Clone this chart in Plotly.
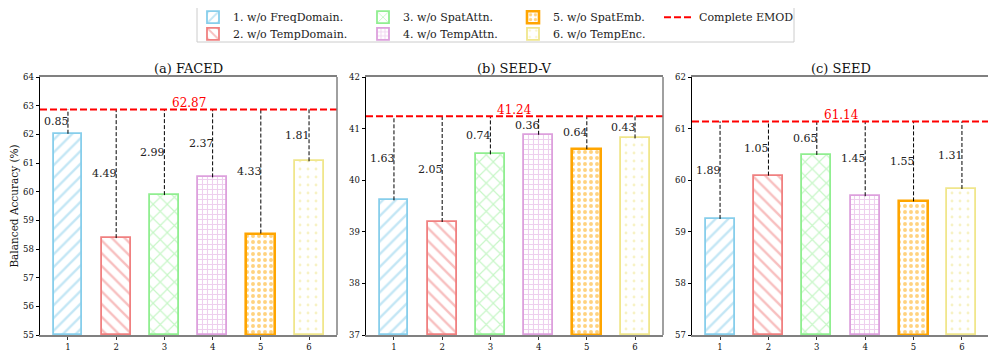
import plotly.graph_objects as go

# ── Data ──────────────────────────────────────────────────────────────────────
datasets = ["(a) FACED", "(b) SEED-V", "(c) SEED"]
variants = ["1. w/o FreqDomain.", "2. w/o TempDomain.", "3. w/o SpatAttn.",
            "4. w/o TempAttn.", "5. w/o SpatEmb.", "6. w/o TempEnc."]
positions = [1, 2, 3, 4, 5, 6]

complete_emod = [62.87, 41.24, 61.14]
faced_acc = [62.02, 58.38, 59.88, 60.50, 58.54, 61.06]
seedv_acc = [39.61, 39.19, 40.50, 40.88, 40.60, 40.81]
seed_acc = [59.25, 60.09, 60.49, 59.69, 59.59, 59.83]

faced_drop = ["0.85", "4.49", "2.99", "2.37", "4.33", "1.81"]
seedv_drop = ["1.63", "2.05", "0.74", "0.36", "0.64", "0.43"]
seed_drop = ["1.89", "1.05", "0.65", "1.45", "1.55", "1.31"]

y_ranges = [(55, 64), (37, 42), (57, 62)]

accs = [faced_acc, seedv_acc, seed_acc]
drops = [faced_drop, seedv_drop, seed_drop]

# ── Style ─────────────────────────────────────────────────────────────────────
colours = ["#87CEEB", "#F08080", "#90EE90", "#DDA0DD", "#FFA500", "#F0E68C"]
patterns = [("/", 9, 0.26), ("\\", 9, 0.26), ("x", 10, 0.22),
            ("+", 5, 0.38), (".", 6, 0.34), (".", 8, 0.1)]
edge_widths = [1.8, 1.8, 1.8, 1.8, 2.6, 1.8]

FONT = "DejaVu Serif"
# page body has an 8px margin, so the figure is laid out in screen px minus 8
OFF = 8
W, H = 996 - OFF, 359 - OFF


def px(x):
    return (x - OFF) / W


def py(y):
    return 1 - (y - OFF) / H


x_px = [(40, 337), (366, 663), (692, 990)]
y_dom = [py(335), py(77)]
x_range = [0.42, 6.58]
SPINE = "#808080"

# one single-item legend per entry: (left px, row centre px)
legend_pos = [(193, 15.7), (193, 32.3), (363, 15.7), (363, 32.3),
              (513, 15.7), (513, 32.3), (659, 15.7)]
legend_names = ["legend"] + [f"legend{k}" for k in range(2, 8)]

fig = go.Figure()

for p in range(3):
    xa = "x" if p == 0 else f"x{p + 1}"
    ya = "y" if p == 0 else f"y{p + 1}"
    ymin = y_ranges[p][0]

    # ── bars ──
    for i in range(6):
        shape, size, sol = patterns[i]
        fig.add_trace(go.Bar(
            x=[positions[i]], y=[accs[p][i] - ymin], base=ymin,
            width=0.6, name=variants[i],
            marker=dict(color="white",
                        line=dict(color=colours[i], width=edge_widths[i]),
                        pattern=dict(shape=shape, fgcolor=colours[i], bgcolor="white",
                                     size=size, solidity=sol, fillmode="overlay")),
            showlegend=(p == 0), legend=legend_names[i],
            xaxis=xa, yaxis=ya,
        ))

    # ── dashed connectors bar top -> complete model ──
    cx, cy = [], []
    for i in range(6):
        cx += [positions[i], positions[i], None]
        cy += [accs[p][i], complete_emod[p], None]
    fig.add_trace(go.Scatter(
        x=cx, y=cy, mode="lines", line=dict(color="black", width=1, dash="4px,2px"),
        showlegend=False, hoverinfo="skip", xaxis=xa, yaxis=ya,
    ))

    # ── complete EMOD reference line ──
    fig.add_trace(go.Scatter(
        x=x_range, y=[complete_emod[p]] * 2, mode="lines",
        line=dict(color="#FF0000", width=2, dash="7px,3px"),
        name="Complete EMOD", showlegend=(p == 0), legend="legend7",
        xaxis=xa, yaxis=ya,
    ))

    # ── drop labels ──
    for i in range(6):
        fig.add_annotation(
            x=positions[i], y=(accs[p][i] + complete_emod[p]) / 2,
            xref=xa, yref=ya, text=drops[p][i], showarrow=False,
            xanchor="right", yanchor="middle", xshift=3,
            font=dict(family=FONT, size=11, color="#222"),
        )
    fig.add_annotation(
        x=3.5, y=complete_emod[p], xref=xa, yref=ya,
        text=f"{complete_emod[p]:.2f}", showarrow=False,
        xanchor="center", yanchor="bottom", yshift=-3,
        font=dict(family=FONT, size=12, color="#FF0000"),
    )

    # ── subplot title ──
    x0, x1 = x_px[p]
    fig.add_annotation(
        x=(px(x0) + px(x1)) / 2, y=py(68), xref="paper", yref="paper",
        text=datasets[p], showarrow=False, xanchor="center", yanchor="middle",
        font=dict(family=FONT, size=13, color="#111"),
    )

    # right spine (gray)
    fig.add_shape(type="line", xref=f"{xa} domain", yref=f"{ya} domain",
                  x0=1, x1=1, y0=0, y1=1, line=dict(color=SPINE, width=1.5))

    tickfont = dict(family=FONT, size=8.5, color="#111")
    fig.update_layout({
        ("xaxis" if p == 0 else f"xaxis{p + 1}"): dict(
            domain=[px(x0), px(x1)], range=x_range, tickvals=positions,
            anchor=ya, showline=True, linecolor=SPINE, linewidth=1.5, mirror=True,
            ticks="outside", ticklen=3.5, tickcolor="#333",
            showgrid=False, zeroline=False, tickfont=tickfont),
        ("yaxis" if p == 0 else f"yaxis{p + 1}"): dict(
            domain=y_dom, range=list(y_ranges[p]), dtick=1,
            anchor=xa, showline=True, linecolor="black", linewidth=1,
            ticks="outside", ticklen=3.5, tickcolor="black",
            showgrid=False, zeroline=False, tickfont=tickfont),
    })

fig.update_layout(yaxis_title=dict(text="Balanced Accuracy (%)",
                                   font=dict(family=FONT, size=10.5, color="#111"),
                                   standoff=6))

# ── legends, placed entry by entry inside a shared frame ──
for name, (lx, ly) in zip(legend_names, legend_pos):
    fig.update_layout({name: dict(
        x=px(lx), y=py(ly - 13), xanchor="left", yanchor="top",
        orientation="v", bgcolor="rgba(0,0,0,0)", borderwidth=0,
        font=dict(family=FONT, size=11, color="#222"),
        itemwidth=30,
    )})

fig.add_shape(type="rect", xref="paper", yref="paper",
              x0=px(197), x1=px(794), y0=py(42), y1=py(7),
              line=dict(color="#CCCCCC", width=1), fillcolor="rgba(0,0,0,0)")

fig.update_layout(
    width=W, height=H,
    margin=dict(l=0, r=0, t=0, b=0, autoexpand=False),
    plot_bgcolor="white", paper_bgcolor="white",
    bargap=0, barmode="overlay",
    font=dict(family=FONT, color="#222"),
)

fig.write_html("out.html")
